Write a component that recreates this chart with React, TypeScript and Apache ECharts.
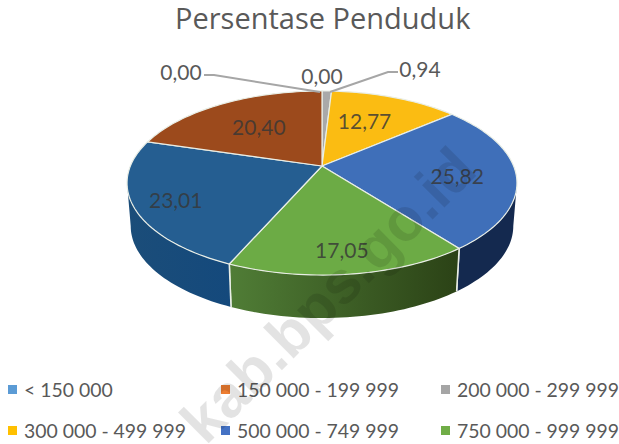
import React, { useEffect, useRef } from "react";
import * as echarts from "echarts";

const titleText = "Persentase Penduduk";
const watermarkText = "kab.bps.go.id";
const seriesNames = [
  "< 150 000",
  "150 000 - 199 999",
  "200 000 - 299 999",
  "300 000 - 499 999",
  "500 000 - 749 999",
  "750 000 - 999 999",
  "1 000 000 - 1 499 999",
  "> 1 500 000",
];
const values = [0.0, 0.0, 0.94, 12.77, 25.82, 17.05, 23.01, 20.4];
const valueLabels = ["0,00", "0,00", "0,94", "12,77", "25,82", "17,05", "23,01", "20,40"];
const legendNames = seriesNames.slice(0, 6);
const legendColors = ["#5b9bd5", "#ed7d31", "#a5a5a5", "#ffc000", "#4472c4", "#70ad47", "#255e91", "#9e480e"];
const faceColors = ["#5b9bd5", "#ed7d31", "#a9a9a9", "#fbbc12", "#3f6fb9", "#6cab45", "#255e91", "#9c4a1c"];
const wallColors: [string, string][] = [
  ["#5b9bd5", "#5b9bd5"],
  ["#ed7d31", "#ed7d31"],
  ["#777777", "#777777"],
  ["#b88a00", "#b88a00"],
  ["#14294f", "#14294f"],
  ["#507d36", "#2b4216"],
  ["#1b4d79", "#14497c"],
  ["#6e3410", "#6e3410"],
];

// perspective disc model
const CX = 322, CY = 166, RX = 191.6, RY = 88.9, K = 0.1848;
const WALL_DY = 43, WALL_RX = 188;
const WALL_FROM = 100.6, WALL_TO = 259.4;
const RIM = "#e9eee6";

const labelPlacement: any[] = [
  { x: 322, y: 75 },
  { x: 181, y: 71, line: [[204, 75], [214, 75], [320, 92]] },
  { x: 420, y: 68, line: [[330, 92], [388, 72], [398, 72]] },
  { r: 0.63, dx: -6, dy: 0 },
  { r: 0.7, dx: 0, dy: 3 },
  { r: 0.8, dx: -2, dy: 1 },
  { r: 0.8, dx: 2, dy: 2 },
  { r: 0.6, dx: 0, dy: 0 },
];

const total = values.reduce((a, b) => a + b, 0);

function pt(deg: number, r = 1, rx = RX, cy = CY): number[] {
  const t = (deg * Math.PI) / 180;
  const u = Math.sin(t) * r;
  const v = -Math.cos(t) * r;
  const d = 1 - K * v;
  return [CX + (rx * u) / d, cy + (RY * v) / d];
}

function arc(from: number, to: number, rx = RX, cy = CY): number[][] {
  const out: number[][] = [];
  const n = Math.max(1, Math.ceil((to - from) / 1.5));
  for (let i = 0; i <= n; i++) out.push(pt(from + ((to - from) * i) / n, 1, rx, cy));
  return out;
}

function sliceChildren(i: number) {
  let before = 0;
  for (let j = 0; j < i; j++) before += values[j];
  const a0 = (before / total) * 360;
  const a1 = ((before + values[i]) / total) * 360;
  const children: any[] = [];
  if (values[i] > 0) {
    const w0 = Math.max(a0, WALL_FROM);
    const w1 = Math.min(a1, WALL_TO);
    if (w1 > w0) {
      const top = arc(w0, w1);
      const bottom = arc(w0, w1, WALL_RX, CY + WALL_DY).reverse();
      children.push({
        type: "polygon",
        shape: { points: top.concat(bottom) },
        style: {
          fill: new echarts.graphic.LinearGradient(0, 0, 1, 0, [
            { offset: 0, color: wallColors[i][0] },
            { offset: 1, color: wallColors[i][1] },
          ]),
        },
      });
      if (a1 < WALL_TO) {
        children.push({
          type: "line",
          shape: { x1: top[top.length - 1][0], y1: top[top.length - 1][1], x2: bottom[0][0], y2: bottom[0][1] },
          style: { stroke: RIM, lineWidth: 1.5 },
        });
      }
      if (a0 > WALL_FROM) {
        children.push({
          type: "line",
          shape: { x1: top[0][0], y1: top[0][1], x2: bottom[bottom.length - 1][0], y2: bottom[bottom.length - 1][1] },
          style: { stroke: RIM, lineWidth: 1.5 },
        });
      }
    }
    children.push({
      type: "polygon",
      shape: { points: [[CX, CY], ...arc(a0, a1)] },
      style: { fill: faceColors[i], stroke: RIM, lineWidth: 1.2 },
    });
  }
  const place = labelPlacement[i];
  if (place.line) {
    children.push({
      type: "polyline",
      shape: { points: place.line },
      style: { fill: "none", stroke: "#a6a6a6", lineWidth: 2 },
      z2: 5,
    });
  }
  let p = [place.x, place.y];
  if (place.r) {
    const q = pt((a0 + a1) / 2, place.r);
    p = [q[0] + place.dx, q[1] + place.dy];
  }
  children.push({
    type: "text",
    z2: 6,
    style: {
      text: valueLabels[i],
      x: p[0],
      y: p[1],
      align: "center",
      verticalAlign: "middle",
      fontFamily: "Lato",
      fontSize: 21,
      fill: place.r ? "rgba(55,55,55,0.82)" : "#595959",
    },
  });
  return children;
}

const legendLeft = [8, 221, 441];
const legendTop = [380, 421];

export default function App() {
  const ref = useRef<HTMLDivElement>(null);
  useEffect(() => {
    const chart = echarts.init(ref.current!, undefined, { renderer: "svg" });
    chart.setOption({
      animation: false,
      backgroundColor: "#ffffff",
      color: legendColors,
      title: {
        text: titleText,
        left: 175,
        top: 3,
        padding: 0,
        textStyle: { fontFamily: "Open Sans", fontWeight: "normal", fontSize: 29, color: "#595959" },
      },
      legend: legendNames.map((name, i) => ({
        data: [name],
        left: legendLeft[i % 3],
        top: legendTop[Math.floor(i / 3)],
        padding: 0,
        itemWidth: 9,
        itemHeight: 9,
        itemGap: 0,
        icon: "rect",
        selectedMode: false,
        textStyle: { fontFamily: "Lato", fontSize: 19.4, color: "#595959", padding: [0, 0, 0, 2] },
      })),
      graphic: [
        {
          type: "text",
          z: 100,
          x: 328,
          y: 295,
          rotation: Math.PI / 4,
          style: {
            text: watermarkText,
            align: "center",
            verticalAlign: "middle",
            fontFamily: "Liberation Sans",
            fontWeight: "bold",
            fontSize: 60,
            fill: "rgba(0,0,0,0.11)",
          },
        },
      ],
      series: values.map((v, i) => ({
        type: "custom",
        name: seriesNames[i],
        coordinateSystem: "none",
        data: [v],
        renderItem: () => ({ type: "group", children: sliceChildren(i) }),
      })),
    });
    return () => chart.dispose();
  }, []);
  return <div ref={ref} style={{ position: "absolute", left: 0, top: 0, width: 619, height: 444 }} />;
}
